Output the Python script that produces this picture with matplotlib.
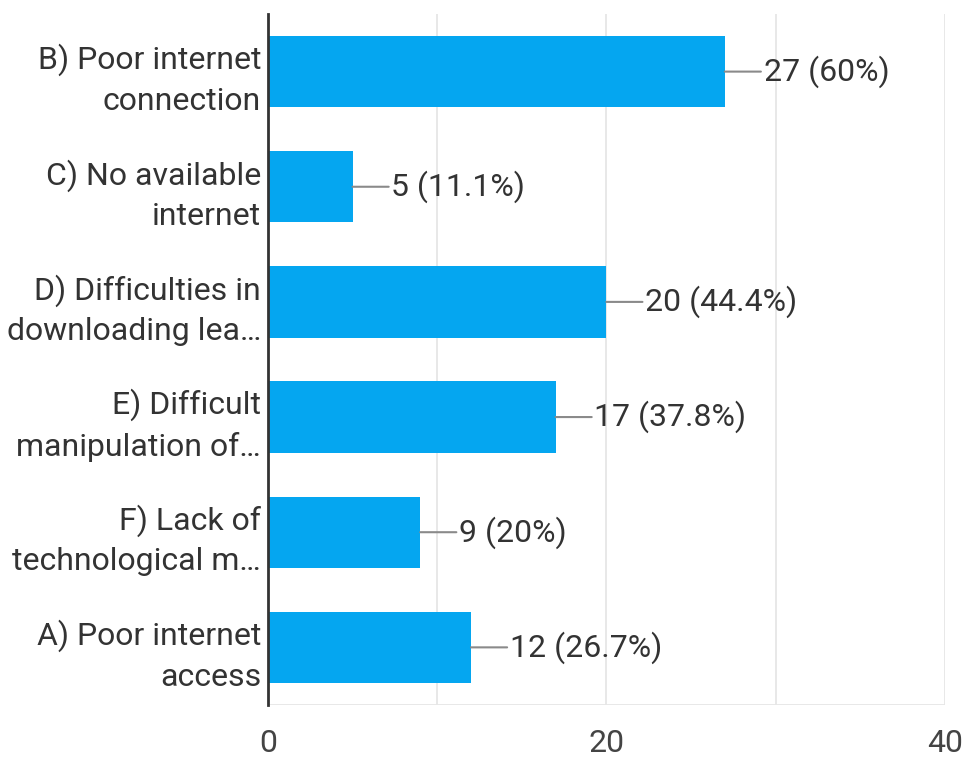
import matplotlib.pyplot as plt

categories = ['B) Poor internet\nconnection', 'C) No available\ninternet',
              'D) Difficulties in\ndownloading lea\u2026', 'E) Difficult\nmanipulation of\u2026',
              'F) Lack of\ntechnological m\u2026', 'A) Poor internet\naccess']
counts = [27, 5, 20, 17, 9, 12]
percents = ['60%', '11.1%', '44.4%', '37.8%', '20%', '26.7%']
xticks = [0, 20, 40]
grid_x = [10, 20, 30, 40]

plt.rcParams['font.family'] = ['Roboto', 'DejaVu Sans']

fig = plt.figure(figsize=(9.65, 7.58), dpi=100)
ax = fig.add_axes([0.2777, 0.070, 0.7013, 0.9115])

pos = list(range(len(categories)))
ax.barh(pos, counts, height=0.62, color='#05A6F0', zorder=3)

for x in grid_x:
    ax.axvline(x, color='#e6e6e6', lw=1.3, zorder=1)
ax.axhline(len(categories) - 0.5, color='#e6e6e6', lw=1.3, zorder=1)

for i, (c, p) in enumerate(zip(counts, percents)):
    ax.annotate('%d (%s)' % (c, p), xy=(c, i), xytext=(28, 0), textcoords='offset points',
                va='center', ha='left', fontsize=23, color='#333333',
                arrowprops=dict(arrowstyle='-', color='#8a8a8a', lw=1.5, shrinkA=0, shrinkB=0))

ax.set_xlim(0, 40)
ax.set_ylim(len(categories) - 0.5, -0.5)
ax.set_yticks(pos)
ax.set_yticklabels(categories, fontsize=23, color='#333333', linespacing=1.45)
ax.set_xticks(xticks)
ax.set_xticklabels([str(t) for t in xticks], fontsize=23, color='#444444')
ax.tick_params(axis='both', length=0)
ax.tick_params(axis='y', pad=5)
ax.tick_params(axis='x', pad=17)

for s in ['top', 'right', 'bottom']:
    ax.spines[s].set_visible(False)
ax.spines['left'].set_color('#333333')
ax.spines['left'].set_linewidth(2)
ax.spines['left'].set_zorder(4)

fig.savefig('out.png', dpi=100)
